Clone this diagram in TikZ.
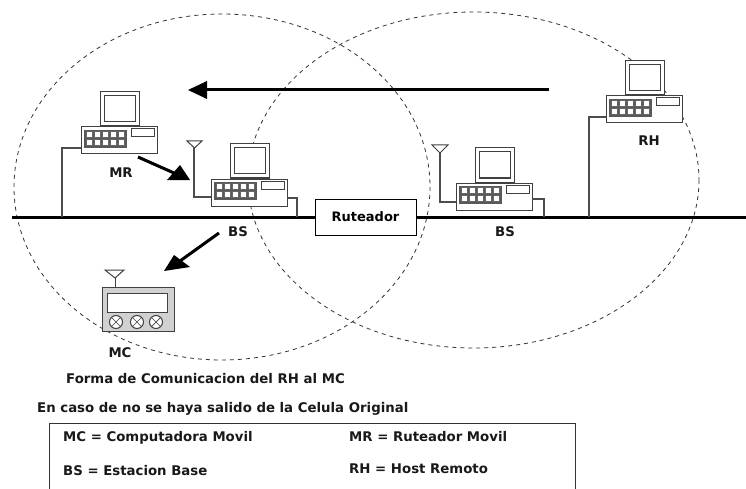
\documentclass[tikz,border=0pt]{standalone}
\usepackage{fontspec}
\setmainfont{DejaVu Sans}
\begin{document}
\begin{tikzpicture}[x=1pt,y=-1pt,
  ln/.style={line width=1pt,draw=black!75},
  wire/.style={line width=1.2pt,draw=black!70},
  bus/.style={line width=3pt,draw=black},
  zone/.style={line width=.8pt,draw=black!80,dash pattern=on 4pt off 4pt},
  shaft/.style={line width=3pt,draw=black,line cap=butt},
  tiph/.style={fill=black,draw=none},
  lab/.style={font=\bfseries\fontsize{13.3}{15}\selectfont,inner sep=0pt,text=black!90},
  device/.pic={
    \draw[ln,fill=white] (19,-35) rectangle (58,-1);
    \draw[ln] (23,-31) rectangle (54,-5);
    \draw[ln,fill=white] (0,0) rectangle (76,27);
    \fill[black!65] (3,3) rectangle (46,21);
    \foreach \i in {0,...,4}\foreach \j in {0,1}
      \draw[fill=white,draw=black!60,line width=.5pt] (5+8*\i,4.5+8.2*\j) rectangle (11.5+8*\i,10.5+8.2*\j);
    \draw[ln,fill=white] (50,2) rectangle (73,10);
  }]
\useasboundingbox (0,0) rectangle (746,489);
\fill[white] (0,0) rectangle (746,489);
% zones
\draw[zone] (222,187) ellipse [x radius=208,y radius=173];
\draw[zone] (473.5,180) ellipse [x radius=225.5,y radius=168];
% bus
\coordinate (busL) at (12,217);
\coordinate (busR) at (746,217);
\draw[bus] (busL) -- (busR);
% devices
\path (81,127) pic {device};
\path (211,179) pic {device};
\path (456,183) pic {device};
\path (606,96) pic {device};
% wires
\draw[wire] (81,148) -- (62,148) -- (62,217);
\draw[wire] (211,197) -- (194,197) -- (194,148);
\draw[wire] (287,198) -- (297,198) -- (297,217);
\draw[wire] (456,202) -- (440,202) -- (440,153);
\draw[wire] (532,199) -- (544,199) -- (544,217);
\draw[wire] (606,117) -- (589,117) -- (589,217);
% antennas
\draw[ln,fill=white] (187,141) -- (202,141) -- (194.5,148) -- cycle;
\draw[ln,fill=white] (432,145) -- (448,145) -- (440,153) -- cycle;
% router
\node[draw=black,line width=1pt,fill=white,minimum width=101pt,minimum height=36pt,inner sep=0pt,font=\bfseries\fontsize{13}{15}\selectfont] (rut) at (365.5,217) {Ruteador};
% mobile
\draw[ln,fill=black!18] (102,287) rectangle (174,331);
\draw[ln,fill=white] (107,293) rectangle (167,312);
\foreach \x in {116,137,156}{
  \draw[ln,fill=white] (\x,322) circle (6.5);
  \draw[line width=.7pt,draw=black!75] (\x-4.5,322-4.5) -- (\x+4.5,322+4.5) (\x-4.5,322+4.5) -- (\x+4.5,322-4.5);
}
\draw[ln] (115,278) -- (115,287);
\draw[ln,fill=white] (105,270) -- (124,270) -- (115,278) -- cycle;
% arrows
\coordinate (a1s) at (549,90);
\coordinate (a1e) at (205,90);
\draw[shaft] (a1s) -- (a1e);
\fill[tiph] (188,90) -- (207,81) -- (207,99) -- cycle;
\coordinate (a2s) at (138,157);
\coordinate (a2e) at (174,173);
\draw[shaft] (a2s) -- (a2e);
\fill[tiph] (190,180) -- (167,180) -- (180,165) -- cycle;
\coordinate (a3s) at (219,233);
\coordinate (a3e) at (180,261);
\draw[shaft] (a3s) -- (a3e);
\fill[tiph] (164,271) -- (174,255) -- (190,267) -- cycle;
% labels
\node[lab] (mr) at (121,173) {MR};
\node[lab] (bs1) at (238,232) {BS};
\node[lab] (bs2) at (505,232) {BS};
\node[lab] (rh) at (649,141) {RH};
\node[lab] (mc) at (120,353) {MC};
\node[lab,anchor=west] (t1) at (66,379) {Forma de Comunicacion del RH al MC};
\node[lab,anchor=west] (t2) at (37,409) {En caso de no se haya salido de la Celula Original};
\node[lab,anchor=west] (k1) at (63,438) {MC = Computadora Movil};
\node[lab,anchor=west] (k2) at (349,437) {MR = Ruteador Movil};
\node[lab,anchor=west] (k3) at (63,471) {BS = Estacion Base};
\node[lab,anchor=west] (k4) at (349,469) {RH = Host Remoto};
% legend box
\draw[line width=1pt,draw=black!80] (49.5,489) -- (49.5,423) -- (575,423) -- (575,489);
\end{tikzpicture}
\end{document}
